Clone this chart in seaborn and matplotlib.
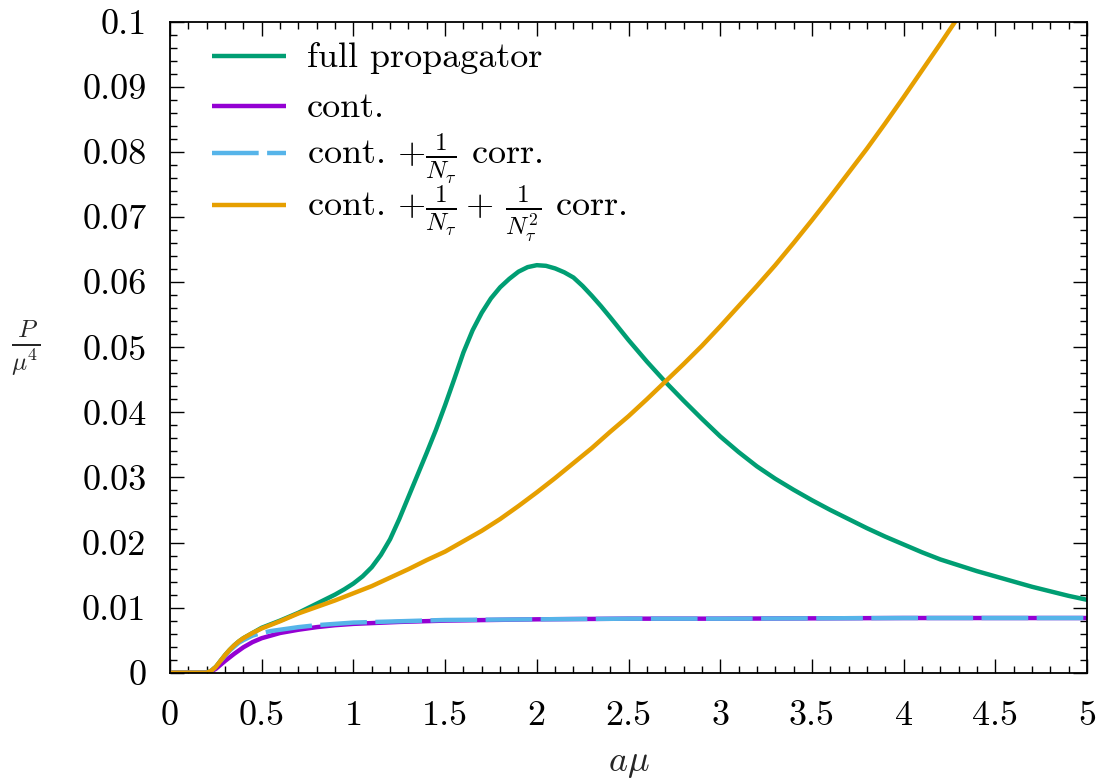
import numpy as np
import pandas as pd
import matplotlib
matplotlib.use("Agg")
import matplotlib.pyplot as plt
import seaborn as sns
from matplotlib.lines import Line2D
from matplotlib.ticker import MultipleLocator, FixedLocator

# --- data -----------------------------------------------------------------
# full propagator
x_full = [0.0, 0.2, 0.225, 0.25, 0.275, 0.3, 0.325, 0.35, 0.375, 0.4, 0.45,
          0.5, 0.6, 0.7, 0.8, 0.9, 0.95, 1.0, 1.05, 1.1, 1.15, 1.2, 1.25,
          1.3, 1.35, 1.4, 1.45, 1.5, 1.55, 1.6, 1.65, 1.7, 1.75, 1.8, 1.85,
          1.9, 1.95, 2.0, 2.05, 2.1, 2.15, 2.2, 2.25, 2.3, 2.35, 2.4, 2.5,
          2.6, 2.7, 2.8, 2.9, 3.0, 3.1, 3.2, 3.3, 3.4, 3.5, 3.6, 3.7, 3.8,
          3.9, 4.0, 4.1, 4.2, 4.3, 4.4, 4.5, 4.6, 4.7, 4.8, 4.9, 5.0]
p_full = [0.0, 0.0, 0.0003, 0.0009, 0.0018, 0.0027, 0.0035, 0.0042, 0.0048,
          0.0053, 0.0061, 0.0069, 0.0080, 0.0092, 0.0106, 0.0120, 0.0128,
          0.0137, 0.0148, 0.0162, 0.0181, 0.0205, 0.0236, 0.0270, 0.0304,
          0.0338, 0.0373, 0.0411, 0.0451, 0.0492, 0.0526, 0.0553, 0.0575,
          0.0592, 0.0605, 0.0616, 0.0623, 0.0626, 0.0625, 0.0621, 0.0615,
          0.0607, 0.0594, 0.0579, 0.0563, 0.0546, 0.0511, 0.0478, 0.0447,
          0.0418, 0.0390, 0.0363, 0.0339, 0.0317, 0.0298, 0.0281, 0.0265,
          0.0250, 0.0236, 0.0222, 0.0209, 0.0197, 0.0185, 0.0174, 0.0165,
          0.0156, 0.0148, 0.0140, 0.0132, 0.0125, 0.0118, 0.0112]

# continuum
x_cont = [0.0, 0.2, 0.225, 0.25, 0.275, 0.3, 0.35, 0.4, 0.45, 0.5, 0.55,
          0.6, 0.7, 0.8, 0.9, 1.0, 1.25, 1.5, 2.0, 2.5, 3.0, 4.0, 5.0]
p_cont = [0.0, 0.0, 0.0002, 0.0006, 0.0012, 0.0018, 0.0029, 0.0039, 0.0047,
          0.0053, 0.0057, 0.0061, 0.0066, 0.0070, 0.0073, 0.0075, 0.0078,
          0.0080, 0.0082, 0.0083, 0.0083, 0.0084, 0.0084]

# continuum + 1/N_tau correction
x_corr1 = [0.0, 0.2, 0.225, 0.25, 0.275, 0.3, 0.325, 0.35, 0.375, 0.4, 0.45,
           0.5, 0.55, 0.6, 0.7, 0.8, 0.9, 1.0, 1.25, 1.5, 2.0, 2.5, 3.0,
           4.0, 5.0]
p_corr1 = [0.0, 0.0, 0.0003, 0.0009, 0.0018, 0.0026, 0.0034, 0.0040, 0.0046,
           0.0050, 0.0057, 0.0061, 0.0064, 0.0066, 0.0070, 0.0073, 0.0075,
           0.0077, 0.0079, 0.0081, 0.0082, 0.0083, 0.0083, 0.0084, 0.0084]

# continuum + 1/N_tau + 1/N_tau^2 corrections
x_corr2 = [0.0, 0.2, 0.225, 0.25, 0.275, 0.3, 0.325, 0.35, 0.375, 0.4, 0.45,
           0.5, 0.6, 0.7, 0.8, 0.9, 1.0, 1.1, 1.2, 1.3, 1.4, 1.5, 1.6, 1.7,
           1.8, 1.9, 2.0, 2.1, 2.2, 2.3, 2.4, 2.5, 2.6, 2.7, 2.8, 2.9, 3.0,
           3.1, 3.2, 3.3, 3.4, 3.5, 3.6, 3.7, 3.8, 3.9, 4.0, 4.1, 4.2, 4.3,
           4.4]
p_corr2 = [0.0, 0.0, 0.0003, 0.0009, 0.0018, 0.0027, 0.0035, 0.0042, 0.0048,
           0.0053, 0.0061, 0.0068, 0.0079, 0.0091, 0.0101, 0.0111, 0.0122,
           0.0133, 0.0146, 0.0159, 0.0173, 0.0186, 0.0202, 0.0218, 0.0236,
           0.0256, 0.0277, 0.0299, 0.0322, 0.0345, 0.0370, 0.0394, 0.0420,
           0.0447, 0.0474, 0.0502, 0.0532, 0.0563, 0.0594, 0.0626, 0.0660,
           0.0695, 0.0731, 0.0768, 0.0805, 0.0844, 0.0884, 0.0925, 0.0966,
           0.1008, 0.1051]

x_ticks = [0, 0.5, 1, 1.5, 2, 2.5, 3, 3.5, 4, 4.5, 5]
x_tick_labels = ["0", "0.5", "1", "1.5", "2", "2.5", "3", "3.5", "4", "4.5", "5"]
y_ticks = [0, 0.01, 0.02, 0.03, 0.04, 0.05, 0.06, 0.07, 0.08, 0.09, 0.1]
y_tick_labels = ["0", "0.01", "0.02", "0.03", "0.04", "0.05", "0.06", "0.07",
                 "0.08", "0.09", "0.1"]

labels = [
    "full propagator",
    "cont.",
    r"cont. $+\frac{1}{N_\tau}$ corr.",
    r"cont. $+\frac{1}{N_\tau}+\,\frac{1}{N_\tau^2}$ corr.",
]
colors = ["#009e73", "#9400d3", "#56b4e9", "#e69f00"]

# --- style ----------------------------------------------------------------
sns.set_style("ticks")
plt.rcParams["font.family"] = ["serif"]
plt.rcParams["font.serif"] = ["cmr10", "DejaVu Serif"]
plt.rcParams["mathtext.fontset"] = "cm"
plt.rcParams["axes.unicode_minus"] = False
plt.rcParams["axes.formatter.use_mathtext"] = True

FS = 26
LW = 3.2
DASH = (10.5, 1.9)

fig = plt.figure(figsize=(11.04, 7.82), dpi=100)
ax = fig.add_axes([170 / 1104, 1 - 672.7 / 782, (1087 - 170) / 1104,
                   (672.7 - 21.7) / 782])

series = [(x_full, p_full), (x_cont, p_cont), (x_corr1, p_corr1),
          (x_corr2, p_corr2)]
for (xs, ys), lab, col in zip(series, labels, colors):
    df = pd.DataFrame({"amu": xs, "P": ys})
    sns.lineplot(data=df, x="amu", y="P", ax=ax, color=col, lw=LW,
                 estimator=None, sort=False, legend=False)

# dashed pattern for the 1/N_tau curve
ax.lines[2].set_dashes(DASH)

ax.set_xlim(0, 5)
ax.set_ylim(0, 0.1)
ax.xaxis.set_major_locator(FixedLocator(x_ticks))
ax.set_xticklabels(x_tick_labels)
ax.yaxis.set_major_locator(FixedLocator(y_ticks))
ax.set_yticklabels(y_tick_labels)
ax.xaxis.set_minor_locator(MultipleLocator(0.1))
ax.yaxis.set_minor_locator(MultipleLocator(0.002))
ax.tick_params(which="both", direction="in", top=True, right=True,
               labelsize=FS, colors="black", width=1.0)
ax.tick_params(which="major", length=10)
ax.tick_params(which="minor", length=5)
ax.tick_params(axis="x", which="major", pad=20)
ax.tick_params(axis="y", which="major", pad=17)
for sp in ax.spines.values():
    sp.set_visible(True)
    sp.set_linewidth(1.3)
    sp.set_color("black")

ax.set_xlabel(r"$a\mu$", fontsize=FS, labelpad=12)
ax.set_ylabel(r"$\frac{P}{\mu^4}$", fontsize=FS, rotation=0, va="center",
              ha="center")
ax.yaxis.set_label_coords(-0.157, 0.499)

# key: entries at a fixed vertical pitch, sample line then label
key_rows = [0.9478, 0.8710, 0.7980, 0.7190]
key_x0, key_x1, key_tx = 0.0458, 0.1265, 0.1494
baseline_drop = 11.5 / 651
for row_y, lab, col, dashed in zip(key_rows, labels, colors,
                                   [False, False, True, False]):
    ln = Line2D([key_x0, key_x1], [row_y, row_y], transform=ax.transAxes,
                color=col, lw=LW, solid_capstyle="butt")
    if dashed:
        ln.set_dashes(DASH)
    ax.add_line(ln)
    ax.text(key_tx, row_y - baseline_drop, lab, transform=ax.transAxes,
            fontsize=FS, ha="left", va="baseline", color="black")

fig.savefig("out.png", dpi=100)
